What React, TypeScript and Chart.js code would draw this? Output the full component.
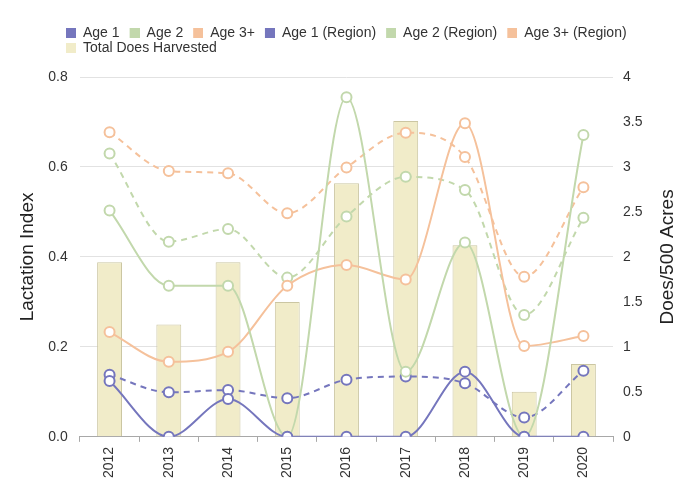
import React, { useEffect, useRef } from 'react';
import { Chart, registerables } from 'chart.js';

Chart.register(...registerables);

const years = ['2012', '2013', '2014', '2015', '2016', '2017', '2018', '2019', '2020'];
const age1 = [0.124, 0, 0.084, 0, 0, 0, 0.145, 0, 0];
const age2 = [0.503, 0.336, 0.336, 0, 0.755, 0.145, 0.432, 0, 0.671];
const age3 = [0.233, 0.167, 0.189, 0.336, 0.382, 0.35, 0.697, 0.202, 0.224];
const age1Region = [0.138, 0.099, 0.104, 0.086, 0.127, 0.134, 0.119, 0.043, 0.147];
const age2Region = [0.63, 0.434, 0.462, 0.354, 0.49, 0.578, 0.549, 0.271, 0.487];
const age3Region = [0.677, 0.591, 0.586, 0.497, 0.599, 0.676, 0.622, 0.356, 0.555];
const totalDoes = [1.94, 1.25, 1.94, 1.5, 2.82, 3.51, 2.13, 0.5, 0.81];

const leftTitle = 'Lactation Index';
const rightTitle = 'Does/500 Acres';

const BLUE = '#7576bd';
const GREEN = '#c2d8ac';
const ORANGE = '#f5c19b';
const BAR_FILL = '#f1ecc9';
const BAR_BORDER = '#cbc6a2';

const FONT = 'Arial, "Liberation Sans", sans-serif';
const TITLE_SIZE = 19;

function makeSwatch(color: string): HTMLCanvasElement {
  const c = document.createElement('canvas');
  c.width = 19;
  c.height = 10;
  const g = c.getContext('2d')!;
  g.fillStyle = color;
  g.fillRect(9, 0, 10, 10);
  return c;
}

const legendShift = {
  id: 'legendShift',
  afterLayout(chart: any) {
    const lg = chart.legend;
    if (!lg) return;
    const w = lg.right - lg.left;
    lg.left = 56;
    lg.right = lg.left + w + 20;
    lg.top -= 12;
    lg.bottom -= 12;
  },
};

const rightTitlePlugin = {
  id: 'rightTitle',
  afterDraw(chart: any) {
    const s = chart.scales.y1;
    if (!s) return;
    const ctx = chart.ctx;
    const lh = TITLE_SIZE * 1.2;
    const x = s.right - 4 - lh / 2;
    const y = (chart.chartArea.top + chart.chartArea.bottom) / 2;
    ctx.save();
    ctx.translate(x, y);
    ctx.rotate(-Math.PI / 2);
    ctx.font = `${TITLE_SIZE}px ${FONT}`;
    ctx.fillStyle = '#222222';
    ctx.textAlign = 'center';
    ctx.textBaseline = 'middle';
    ctx.fillText(rightTitle, 0, 0);
    ctx.restore();
  },
};

function lineDs(label: string, data: number[], color: string, dashed: boolean) {
  return {
    type: 'line' as const,
    label,
    data,
    yAxisID: 'y',
    borderColor: color,
    backgroundColor: '#ffffff',
    borderWidth: 2,
    borderDash: dashed ? [6, 5] : [],
    cubicInterpolationMode: 'monotone',
    tension: 0.4,
    pointRadius: 5,
    pointBorderWidth: 2,
    pointBackgroundColor: '#ffffff',
    pointBorderColor: color,
    fill: false,
    order: 0,
  };
}

export default function App() {
  const ref = useRef<HTMLCanvasElement | null>(null);

  useEffect(() => {
    if (!ref.current) return;
    const swatchColors = [BLUE, GREEN, ORANGE, BLUE, GREEN, ORANGE, BAR_FILL];
    const swatches = swatchColors.map(makeSwatch);

    const chart = new Chart(ref.current, {
      type: 'bar',
      data: {
        labels: years,
        datasets: [
          lineDs('Age 1', age1, BLUE, false),
          lineDs('Age 2', age2, GREEN, false),
          lineDs('Age 3+', age3, ORANGE, false),
          lineDs('Age 1 (Region)', age1Region, BLUE, true),
          lineDs('Age 2 (Region)', age2Region, GREEN, true),
          lineDs('Age 3+ (Region)', age3Region, ORANGE, true),
          {
            type: 'bar' as const,
            label: 'Total Does Harvested',
            data: totalDoes,
            yAxisID: 'y1',
            backgroundColor: BAR_FILL,
            borderColor: BAR_BORDER,
            borderWidth: 1,
            barPercentage: 0.7,
            categoryPercentage: 0.6,
            order: 1,
          },
        ] as any,
      },
      options: {
        animation: false,
        responsive: true,
        maintainAspectRatio: false,
        layout: { padding: { top: 37, left: 12.6, right: 11.1, bottom: 0 } },
        font: { family: FONT },
        plugins: {
          legend: {
            position: 'top',
            align: 'start',
            labels: {
              font: { family: FONT, size: 14 },
              color: '#333333',
              padding: 1,
              usePointStyle: true,
              pointStyleWidth: 19,
              boxHeight: 10,
              generateLabels: (ch: any) => {
                const items = (Chart.defaults.plugins.legend.labels as any).generateLabels(ch);
                return items.map((it: any) => ({ ...it, pointStyle: swatches[it.datasetIndex] }));
              },
            },
          },
          tooltip: { enabled: false },
        },
        scales: {
          x: {
            type: 'category',
            offset: true,
            grid: {
              display: true,
              offset: true,
              drawOnChartArea: false,
              drawTicks: true,
              tickLength: 5,
              color: '#a8a8a8',
            },
            border: { display: true, color: '#a8a8a8' },
            ticks: {
              minRotation: 90,
              maxRotation: 90,
              padding: 5,
              color: '#333333',
              font: { family: FONT, size: 14 },
            },
          },
          y: {
            type: 'linear',
            position: 'left',
            min: 0,
            max: 0.8,
            ticks: {
              stepSize: 0.2,
              padding: 0,
              color: '#333333',
              font: { family: FONT, size: 14 },
              callback: (v: any) => Number(v).toFixed(1),
            },
            grid: {
              color: '#e2e2e2',
              drawTicks: true,
              tickLength: 12.3,
              tickColor: 'rgba(0,0,0,0)',
              lineWidth: 1,
            },
            border: { display: false },
            title: {
              display: true,
              text: leftTitle,
              color: '#222222',
              font: { family: FONT, size: TITLE_SIZE },
              padding: { top: 4, bottom: 8.8 },
            },
          },
          y1: {
            type: 'linear',
            position: 'right',
            min: 0,
            max: 4,
            ticks: {
              stepSize: 0.5,
              padding: 0,
              color: '#333333',
              font: { family: FONT, size: 14 },
              callback: (v: any) => String(Number(v)),
            },
            grid: {
              drawOnChartArea: false,
              drawTicks: true,
              tickLength: 10,
              tickColor: 'rgba(0,0,0,0)',
            },
            border: { display: false },
            title: {
              display: true,
              text: rightTitle,
              color: 'rgba(0,0,0,0)',
              font: { family: FONT, size: TITLE_SIZE },
              padding: { top: 4, bottom: 13.6 },
            },
          },
        },
      } as any,
      plugins: [legendShift, rightTitlePlugin],
    });

    return () => chart.destroy();
  }, []);

  return (
    <div style={{ position: 'absolute', left: 0, top: 0, width: 694, height: 483 }}>
      <canvas ref={ref} />
    </div>
  );
}
